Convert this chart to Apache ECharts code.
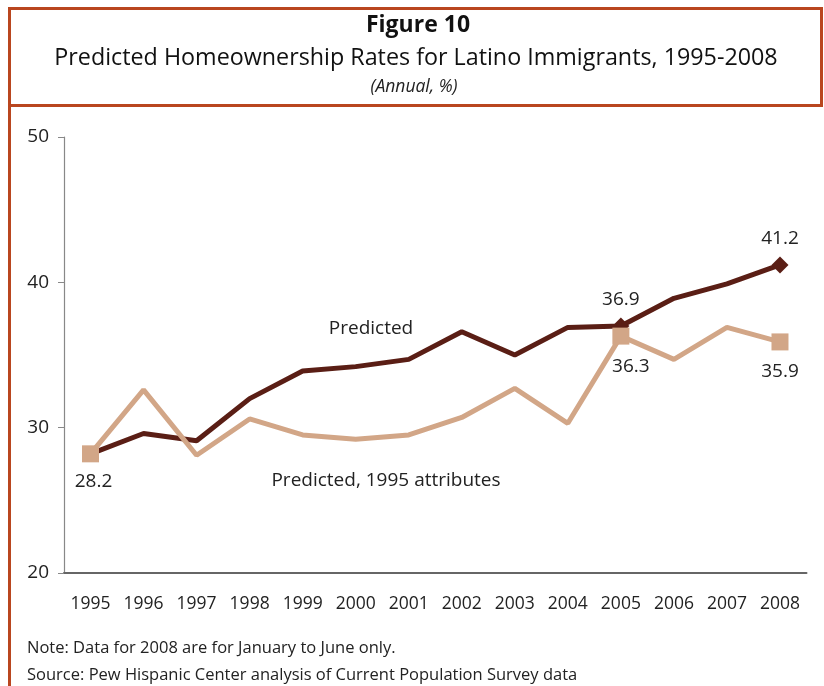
<!DOCTYPE html>
<html><head><meta charset="utf-8">
<script src="https://cdn.jsdelivr.net/npm/echarts@6/dist/echarts.min.js"></script>
<style>html,body{margin:0;padding:0;background:#fff}#c{width:824px;height:686px}</style>
</head><body><div id="c"></div>
<script>
const years = ['1995','1996','1997','1998','1999','2000','2001','2002','2003','2004','2005','2006','2007','2008'];
const predicted = [28.2, 29.6, 29.1, 32.0, 33.9, 34.2, 34.7, 36.6, 35.0, 36.9, 37.0, 38.9, 39.9, 41.2];
const predicted1995 = [28.2, 32.6, 28.1, 30.6, 29.5, 29.2, 29.5, 30.7, 32.7, 30.3, 36.3, 34.7, 36.9, 35.9];
const predictedLabels = {10: '36.9', 13: '41.2'};
const predicted1995Labels = {0: '28.2', 10: '36.3', 13: '35.9'};
const yTicks = [20, 30, 40, 50];

const FONT = 'Open Sans';
const DARK = '#5a1e15';
const TAN = '#d2a687';
const BORDER = '#b9461f';

const chart = echarts.init(document.getElementById('c'), null, {renderer: 'canvas'});

function mkData(vals, labels, sym, pos, offsets) {
  return vals.map((v, i) => {
    if (labels[i] === undefined) return {value: v, symbol: 'none'};
    return {
      value: v,
      symbol: sym,
      label: {show: true, position: pos, formatter: labels[i], offset: offsets[i] || [0, 0]}
    };
  });
}

chart.setOption({
  animation: false,
  textStyle: {fontFamily: FONT},
  grid: {left: 64, right: 17.5, top: 137, bottom: 113},
  xAxis: {
    type: 'category', data: years, boundaryGap: true,
    axisLine: {lineStyle: {color: '#666', width: 2}},
    axisTick: {inside: true, length: 6, lineStyle: {color: '#666', width: 1.5}},
    axisLabel: {color: '#222', fontSize: 17.5, margin: 22, fontFamily: FONT}
  },
  yAxis: {
    type: 'value', min: yTicks[0], max: yTicks[yTicks.length - 1], interval: 10,
    axisLine: {show: true, lineStyle: {color: '#888', width: 1.2}},
    axisTick: {show: true, length: 6, lineStyle: {color: '#888'}},
    splitLine: {show: false},
    axisLabel: {color: '#222', fontSize: 19, margin: 15, fontFamily: FONT}
  },
  series: [
    {
      type: 'line', name: 'Predicted', data: mkData(predicted, predictedLabels, 'diamond', 'top', {}),
      symbolSize: 17, showSymbol: true, z: 2,
      lineStyle: {color: DARK, width: 5}, itemStyle: {color: DARK},
      label: {color: '#222', fontSize: 19, distance: 8, fontFamily: FONT}
    },
    {
      type: 'line', name: 'Predicted, 1995 attributes', data: mkData(predicted1995, predicted1995Labels, 'rect', 'bottom', {0: [3, 4], 10: [10, 6], 13: [0, 6]}),
      symbolSize: 17, showSymbol: true, z: 3,
      lineStyle: {color: TAN, width: 5}, itemStyle: {color: TAN},
      label: {color: '#222', fontSize: 19, distance: 6, fontFamily: FONT}
    }
  ],
  graphic: [
    {type: 'rect', shape: {x: 9.5, y: 8.5, width: 812, height: 97}, style: {fill: 'none', stroke: BORDER, lineWidth: 3}, silent: true},
    {type: 'line', shape: {x1: 9.5, y1: 105, x2: 9.5, y2: 686}, style: {stroke: BORDER, lineWidth: 3}},
    {type: 'text', x: 418, y: 25, style: {text: 'Figure 10', font: 'bold 23px "Open Sans"', fill: '#111', textAlign: 'center', textVerticalAlign: 'middle'}},
    {type: 'text', x: 416, y: 58, style: {text: 'Predicted Homeownership Rates for Latino Immigrants, 1995-2008', font: '23.3px "Open Sans"', fill: '#111', textAlign: 'center', textVerticalAlign: 'middle'}},
    {type: 'text', x: 414, y: 87, style: {text: '(Annual, %)', font: 'italic 17.5px "Open Sans"', fill: '#222', textAlign: 'center', textVerticalAlign: 'middle'}},
    {type: 'text', x: 371, y: 329, style: {text: 'Predicted', font: '19px "Open Sans"', fill: '#222', textAlign: 'center', textVerticalAlign: 'middle'}},
    {type: 'text', x: 386, y: 481, style: {text: 'Predicted, 1995 attributes', font: '19px "Open Sans"', fill: '#222', textAlign: 'center', textVerticalAlign: 'middle'}},
    {type: 'text', x: 27, y: 648, style: {text: 'Note: Data for 2008 are for January to June only.', font: '16.5px "Open Sans"', fill: '#222', textVerticalAlign: 'middle'}},
    {type: 'text', x: 27, y: 675, style: {text: 'Source: Pew Hispanic Center analysis of Current Population Survey data', font: '16.5px "Open Sans"', fill: '#222', textVerticalAlign: 'middle'}}
  ]
});
</script></body></html>
